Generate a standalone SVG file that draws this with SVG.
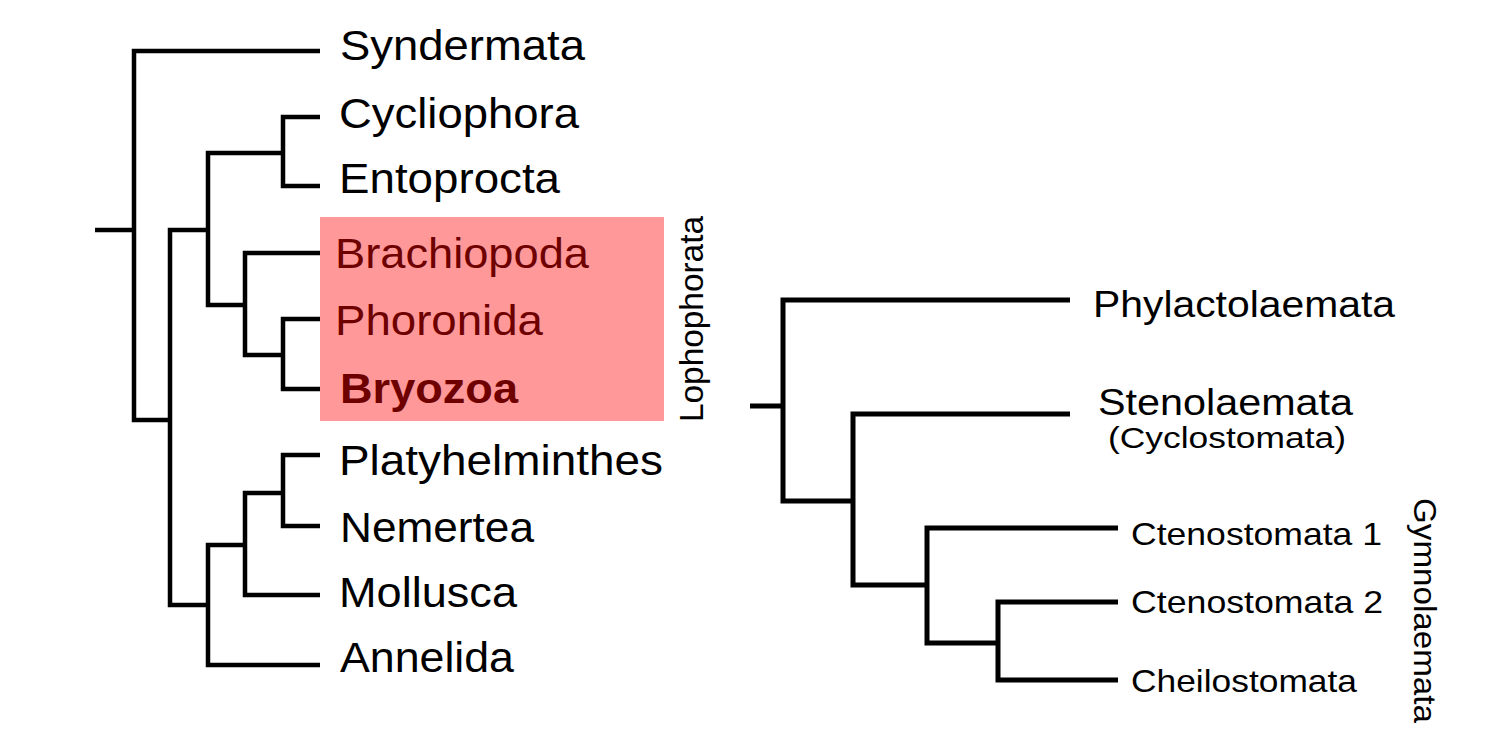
<svg xmlns="http://www.w3.org/2000/svg" width="1500" height="742" viewBox="0 0 1500 742">
  <style>
    .lbl { font-family: "Liberation Sans", Arial, sans-serif; fill: #000; }
    .big { font-size: 43px; }
    .red { fill: #6e0000; }
    .bold { font-weight: bold; }
    .br { fill: none; stroke: #000; stroke-linejoin: miter; stroke-linecap: butt; }
    .l { stroke-width: 4.5; }
    .r { stroke-width: 5; }
  </style>
  <rect x="0" y="0" width="1500" height="742" fill="#fff"/>
  <g id="lophophorata-box">
    <rect x="320" y="217" width="344" height="204" fill="#ff9898"/>
  </g>
  <g id="connectors">
    <path class="br l" d="M95,230 H134"/>
    <path class="br l" d="M320,51 H134 V420 H170"/>
    <path class="br l" d="M208,230 H170 V605 H208"/>
    <path class="br l" d="M283,153 H208 V305 H245"/>
    <path class="br l" d="M320,117 H283 V186 H320"/>
    <path class="br l" d="M320,253 H245 V355 H283"/>
    <path class="br l" d="M320,319 H283 V389 H320"/>
    <path class="br l" d="M245,545 H208 V665 H320"/>
    <path class="br l" d="M283,493 H245 V595 H320"/>
    <path class="br l" d="M320,455 H283 V526 H320"/>
    <path class="br r" d="M750,406 H783"/>
    <path class="br r" d="M1070,300 H783 V501 H853"/>
    <path class="br r" d="M1070,414 H853 V585 H927"/>
    <path class="br r" d="M1118,528 H927 V643 H998"/>
    <path class="br r" d="M1118,602 H998 V680 H1118"/>
  </g>
  <g id="syndermata"><text class="lbl big" x="340" y="60" textLength="245" lengthAdjust="spacingAndGlyphs">Syndermata</text></g>
  <g id="cycliophora"><text class="lbl big" x="339" y="128" textLength="240" lengthAdjust="spacingAndGlyphs">Cycliophora</text></g>
  <g id="entoprocta"><text class="lbl big" x="339" y="193" textLength="221" lengthAdjust="spacingAndGlyphs">Entoprocta</text></g>
  <g id="brachiopoda"><text class="lbl big red" x="335" y="268" textLength="254" lengthAdjust="spacingAndGlyphs">Brachiopoda</text></g>
  <g id="phoronida"><text class="lbl big red" x="335" y="335" textLength="208" lengthAdjust="spacingAndGlyphs">Phoronida</text></g>
  <g id="bryozoa"><text class="lbl big red bold" x="340" y="403" textLength="178" lengthAdjust="spacingAndGlyphs">Bryozoa</text></g>
  <g id="platyhelminthes"><text class="lbl big" x="339" y="475" textLength="324" lengthAdjust="spacingAndGlyphs">Platyhelminthes</text></g>
  <g id="nemertea"><text class="lbl big" x="340" y="542" textLength="194" lengthAdjust="spacingAndGlyphs">Nemertea</text></g>
  <g id="mollusca"><text class="lbl big" x="339" y="607" textLength="178" lengthAdjust="spacingAndGlyphs">Mollusca</text></g>
  <g id="annelida"><text class="lbl big" x="340" y="672" textLength="174" lengthAdjust="spacingAndGlyphs">Annelida</text></g>
  <g id="lophophorata"><text class="lbl" font-size="33" transform="translate(703,422) rotate(-90)" textLength="206" lengthAdjust="spacingAndGlyphs">Lophophorata</text></g>
  <g id="phylactolaemata"><text class="lbl" font-size="37" x="1093" y="317" textLength="302" lengthAdjust="spacingAndGlyphs">Phylactolaemata</text></g>
  <g id="stenolaemata">
    <text class="lbl" font-size="37" x="1098" y="415" textLength="255" lengthAdjust="spacingAndGlyphs">Stenolaemata</text>
    <text class="lbl" font-size="30" x="1108" y="448" textLength="238" lengthAdjust="spacingAndGlyphs">(Cyclostomata)</text>
  </g>
  <g id="ctenostomata1"><text class="lbl" font-size="32" x="1131" y="545" textLength="251" lengthAdjust="spacingAndGlyphs">Ctenostomata 1</text></g>
  <g id="ctenostomata2"><text class="lbl" font-size="32" x="1131" y="613" textLength="252" lengthAdjust="spacingAndGlyphs">Ctenostomata 2</text></g>
  <g id="cheilostomata"><text class="lbl" font-size="32" x="1131" y="692" textLength="226" lengthAdjust="spacingAndGlyphs">Cheilostomata</text></g>
  <g id="gymnolaemata"><text class="lbl" font-size="31" transform="translate(1414,498) rotate(90)" textLength="225" lengthAdjust="spacingAndGlyphs">Gymnolaemata</text></g>
</svg>
